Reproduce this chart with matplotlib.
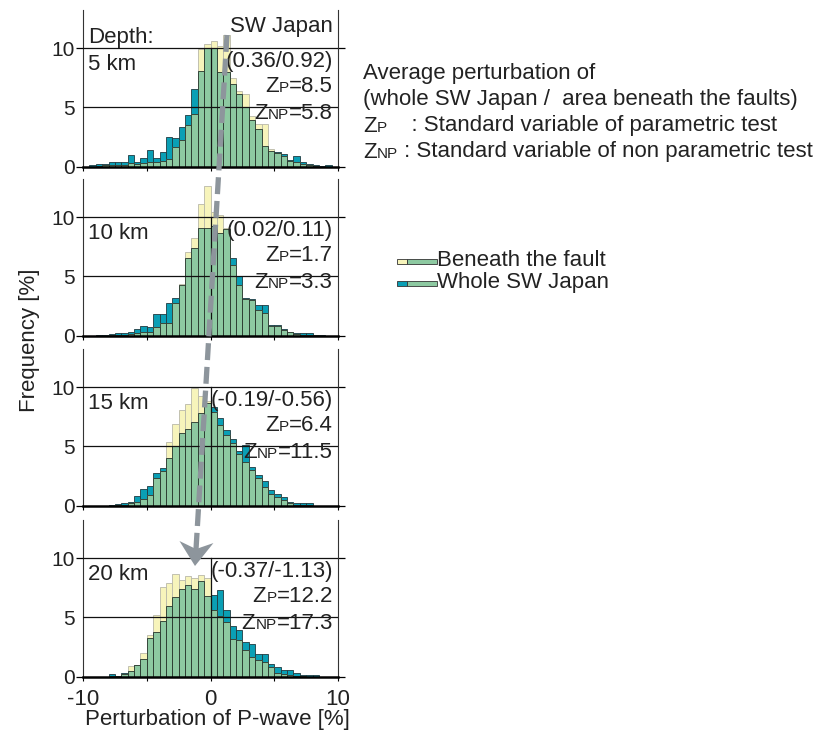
import numpy as np
import matplotlib
matplotlib.use("Agg")
import matplotlib.pyplot as plt
from matplotlib.offsetbox import TextArea, HPacker, AnnotationBbox
from matplotlib.patches import Polygon, Rectangle
from matplotlib.lines import Line2D

plt.rcParams['font.family'] = ['Liberation Sans', 'DejaVu Sans']

# Histogram bins: perturbation of P-wave [%], 0.5 % wide from -10 to 10
bin_edges = np.arange(-10, 10.01, 0.5)

depths = ['5 km', '10 km', '15 km', '20 km']

# Frequency [%] per bin, whole SW Japan
whole_5 = [0, 0.1, 0.2, 0.25, 0.35, 0.35, 0.35, 0.95, 0.35, 0.75,
           1.4, 0.75, 1.25, 2.45, 2.4, 3.3, 4.35, 6.5, 8.05, 10.0,
           10.0, 8.0, 8.0, 7.0, 6.1, 5.0, 3.9, 3.2, 1.75, 1.3,
           1.2, 1.05, 0.56, 0.85, 0.4, 0.2, 0.1, 0.05, 0.15, 0]
whole_10 = [0, 0, 0.03, 0.05, 0.15, 0.2, 0.2, 0.3, 0.55, 0.8,
            0.7, 1.85, 1.85, 2.75, 3.2, 4.3, 6.55, 7.4, 9.1, 9.1,
            9.3, 8.7, 9.0, 6.55, 5.0, 3.2, 3.1, 2.6, 2.6, 0.9,
            0.9, 0.6, 0.35, 0.2, 0.2, 0.25, 0.1, 0.05, 0, 0]
whole_15 = [0, 0, 0, 0, 0.05, 0.15, 0.2, 0.35, 0.85, 1.4,
            1.7, 2.75, 3.2, 4.0, 5.0, 6.1, 6.5, 7.1, 7.8, 8.7,
            8.3, 7.4, 6.4, 5.6, 4.6, 5.1, 3.3, 2.6, 2.05, 1.35,
            1.0, 0.75, 0.35, 0.25, 0.25, 0.2, 0, 0, 0, 0]
whole_20 = [0, 0, 0, 0, 0.2, 0.1, 0.35, 0.5, 1.0, 1.5,
            3.3, 3.8, 4.7, 6.0, 6.7, 7.4, 7.7, 7.4, 8.1, 6.8,
            6.9, 7.3, 5.6, 4.3, 3.9, 2.9, 2.8, 1.9, 1.9, 1.07,
            0.85, 0.56, 0.56, 0.28, 0.15, 0.15, 0.15, 0, 0, 0]

# Frequency [%] per bin, area beneath the faults
fault_5 = [0, 0, 0.05, 0.1, 0.1, 0.15, 0.15, 0.3, 0.2, 0.3,
           0.4, 0.4, 0.5, 0.6, 1.65, 2.2, 3.5, 4.4, 9.9, 10.3,
           10.6, 10.2, 11.1, 7.46, 6.4, 6.1, 4.3, 3.6, 3.6, 1.5,
           1.1, 0.9, 0.5, 0.4, 0.2, 0.15, 0.05, 0, 0, 0]
fault_10 = [0, 0, 0, 0, 0.05, 0.1, 0.1, 0.15, 0.2, 0.35,
            0.35, 0.75, 1.05, 1.05, 2.75, 4.35, 7.1, 8.25, 11.1, 12.6,
            10.4, 10.2, 9.1, 6.0, 4.3, 3.1, 3.0, 2.2, 1.9, 0.8,
            0.8, 0.5, 0.3, 0.15, 0.1, 0.1, 0.05, 0, 0, 0]
fault_15 = [0, 0, 0, 0, 0, 0.05, 0.1, 0.2, 0.35, 0.6,
            0.9, 2.3, 2.9, 5.4, 6.9, 8.1, 8.6, 9.9, 9.3, 8.8,
            7.9, 6.8, 6.0, 5.3, 4.4, 3.7, 3.0, 2.3, 1.6, 1.0,
            0.7, 0.45, 0.2, 0.1, 0.1, 0.05, 0, 0, 0, 0]
fault_20 = [0, 0, 0, 0, 0.05, 0.05, 0.2, 0.93, 1.0, 2.0,
            3.5, 5.2, 7.6, 7.9, 8.7, 8.2, 8.5, 8.3, 8.6, 8.3,
            5.6, 5.1, 4.6, 3.2, 3.1, 2.25, 1.7, 1.4, 1.25, 0.85,
            0.3, 0.2, 0.15, 0.1, 0.05, 0, 0, 0, 0, 0]

# Average perturbation (whole / beneath) and test statistics
mean_labels = ['(0.36/0.92)', '(0.02/0.11)', '(-0.19/-0.56)', '(-0.37/-1.13)']
z_param = ['8.5', '1.7', '6.4', '12.2']
z_nonparam = ['5.8', '3.3', '11.5', '17.3']

whole_all = [whole_5, whole_10, whole_15, whole_20]
fault_all = [fault_5, fault_10, fault_15, fault_20]

YELLOW = '#f7f4bb'
GREEN = '#8dc9a1'
TEAL = '#0a9fb5'
ARROW = '#8d959c'
BIG = 16
SMALL = 11

W, H = 825, 733
fig = plt.figure(figsize=(W / 100, H / 100), dpi=100)


def fpx(x, y):
    # pixel position (from top-left) -> figure fraction
    return x / W, 1 - y / H


def z_box(sub, rest, size=BIG, small=SMALL):
    parts = [TextArea('Z', textprops=dict(size=size, color='#222222')),
             TextArea(sub, textprops=dict(size=small, color='#222222')),
             TextArea(rest, textprops=dict(size=size, color='#222222'))]
    return HPacker(children=parts, align='baseline', pad=0, sep=0)


zero_px = [166.5, 335.7, 505.7, 676.7]
axes = []
for i, z0 in enumerate(zero_px):
    x0, y0 = fpx(83, z0)
    ax = fig.add_axes([x0, y0, 255 / W, 156.4 / H])
    axes.append(ax)
    whole = np.array(whole_all[i])
    fault = np.array(fault_all[i])
    centers = bin_edges[:-1] + 0.25
    ax.bar(centers, whole, width=0.5, color=TEAL, edgecolor='#1f3a40', linewidth=0.6, zorder=1)
    ax.bar(centers, fault, width=0.5, color=YELLOW, edgecolor='#b9b8a8', linewidth=0.6, zorder=1.5)
    ax.bar(centers, np.minimum(whole, fault), width=0.5, color=GREEN,
           edgecolor='#25332a', linewidth=0.6, zorder=2)

    ax.set_xlim(-10, 10)
    ax.set_ylim(0, 13.2)
    ax.axhline(5, color='#111111', lw=0.9, zorder=3)
    ax.axhline(10, color='#111111', lw=0.9, zorder=3)
    ax.plot([0, 0], [0, 10], color='#111111', lw=0.9, zorder=3)

    ax.spines['top'].set_visible(False)
    for s in ('left', 'right'):
        ax.spines[s].set_linewidth(0.8)
        ax.spines[s].set_color('#333333')
    ax.spines['bottom'].set_linewidth(1.8)
    ax.spines['bottom'].set_zorder(4)

    ax.set_yticks([0, 5, 10])
    ax.set_yticklabels(['0', '5', '10'])
    ax.tick_params(axis='y', which='major', direction='out', length=5, width=0.9,
                   pad=1, labelsize=15, labelcolor='#222222', right=True)
    for t in ax.yaxis.get_major_ticks()[1:2]:
        t.tick1line.set_visible(False)
        t.tick2line.set_visible(False)

    ax.set_xticks([-10, -5, 0, 5, 10])
    ax.tick_params(axis='x', direction='out', length=3, width=0.8, pad=6,
                   labelsize=16, labelcolor='#222222')
    if i == 3:
        ax.set_xticklabels(['-10', '', '0', '', '10'])
    else:
        ax.set_xticklabels([])

    # depth label and statistics
    if i == 0:
        ax.text(-9.6, 10.85, 'Depth:', size=BIG, color='#222222', va='center', ha='left')
        ax.text(9.6, 11.8, 'SW Japan', size=BIG, color='#222222', va='center', ha='right')
    ax.text(-9.6, 8.6, depths[i], size=BIG, color='#222222', va='center', ha='left')
    ax.text(9.6, 8.9, mean_labels[i], size=BIG, color='#222222', va='center', ha='right')
    for sub, val, yy in (('P', z_param[i], 6.75), ('NP', z_nonparam[i], 4.45)):
        ab = AnnotationBbox(z_box(sub, '=' + val), (9.6, yy), xycoords='data',
                            box_alignment=(1, 0.5), frameon=False, pad=0,
                            annotation_clip=False)
        ax.add_artist(ab)

fig.text(*fpx(30, 340), 'Frequency [%]', rotation=90, size=BIG, color='#222222',
         ha='center', va='center')
fig.text(*fpx(217, 719), 'Perturbation of P-wave [%]', size=BIG, color='#222222',
         ha='center', va='center')

# explanation block
fig.text(*fpx(363, 73), 'Average perturbation of', size=BIG, color='#222222', va='center')
fig.text(*fpx(363, 100), '(whole SW Japan /  area beneath the faults)', size=BIG,
         color='#222222', va='center')
for sub, rest, yy in (('P', '    : Standard variable of parametric test', 126),
                      ('NP', ' : Standard variable of non parametric test', 152)):
    ab = AnnotationBbox(z_box(sub, rest), fpx(363, yy), xycoords='figure fraction',
                        box_alignment=(0, 0.5), frameon=False, pad=0)
    fig.add_artist(ab)

# legend with two-colour swatches
for label, first, yy in (('Beneath the fault', YELLOW, 261), ('Whole SW Japan', TEAL, 283)):
    x0, y0 = fpx(397, yy + 3)
    fig.add_artist(Rectangle((x0, y0), 10 / W, 5.5 / H, transform=fig.transFigure,
                             facecolor=first, edgecolor='#333333', lw=0.6))
    x1, _ = fpx(407, yy)
    fig.add_artist(Rectangle((x1, y0), 30 / W, 5.5 / H, transform=fig.transFigure,
                             facecolor=GREEN, edgecolor='#333333', lw=0.6))
    fig.text(*fpx(437, yy), label, size=BIG, color='#222222', va='center')

# dashed arrow following the shift of the peak with depth
start = np.array([227.0, 35.0])
tip = np.array([195.0, 566.0])
d = tip - start
d = d / np.hypot(*d)
n = np.array([-d[1], d[0]])
notch = tip - 17 * d
line_end = notch + 2 * d
fig.add_artist(Line2D([fpx(*start)[0], fpx(*line_end)[0]],
                      [fpx(*start)[1], fpx(*line_end)[1]],
                      transform=fig.transFigure, color=ARROW, lw=3.8,
                      dashes=(3.2, 1.3), dash_capstyle='butt', zorder=10))
head = [tip, tip - 24 * d + 17 * n, notch, tip - 24 * d - 17 * n]
fig.add_artist(Polygon([fpx(*p) for p in head], closed=True, transform=fig.transFigure,
                       facecolor=ARROW, edgecolor='none', zorder=10))

fig.savefig('out.png', dpi=100)
